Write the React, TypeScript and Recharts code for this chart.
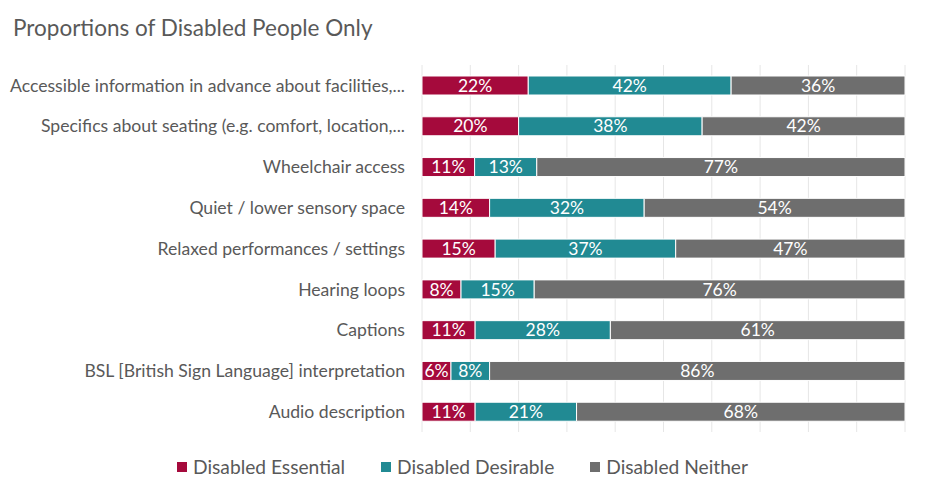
import { Bar, BarChart, CartesianGrid, LabelList, XAxis, YAxis } from "recharts";

const categories = [
  "Accessible information in advance about facilities,...",
  "Specifics about seating (e.g. comfort, location,...",
  "Wheelchair access",
  "Quiet / lower sensory space",
  "Relaxed performances / settings",
  "Hearing loops",
  "Captions",
  "BSL [British Sign Language] interpretation",
  "Audio description",
];
const essential = [22, 20, 11, 14, 15, 8, 11, 6, 11];
const desirable = [42, 38, 13, 32, 37, 15, 28, 8, 21];
const neither = [36, 42, 77, 54, 47, 76, 61, 86, 68];
const xTicks = [0, 0.1, 0.2, 0.3, 0.4, 0.5, 0.6, 0.7, 0.8, 0.9, 1];

const seriesInfo = [
  { key: "essential", name: "Disabled Essential", color: "#A50A3C" },
  { key: "desirable", name: "Disabled Desirable", color: "#218A93" },
  { key: "neither", name: "Disabled Neither", color: "#6E6E6E" },
];

const data = categories.map((name, i) => ({
  name,
  essential: essential[i],
  desirable: desirable[i],
  neither: neither[i],
}));

const FONT = "Lato, 'Open Sans', sans-serif";
const TEXT = "#595959";

export default function App() {
  return (
    <div style={{ position: "relative", width: 925, height: 497, background: "#fff" }}>
      <style>{`body{margin:0}`}</style>
      <div style={{ position: "absolute", left: 13, top: 14, fontFamily: FONT, fontSize: 22.5, color: TEXT }}>
        Proportions of Disabled People Only
      </div>
      <BarChart
        width={925}
        height={497}
        data={data}
        layout="vertical"
        stackOffset="expand"
        barSize={19}
        margin={{ top: 65, right: 20, bottom: 65, left: 0 }}
      >
        <CartesianGrid horizontal={false} stroke="#e6e6e6" />
        <XAxis type="number" domain={[0, 1]} ticks={xTicks} hide />
        <YAxis
          type="category"
          dataKey="name"
          width={422}
          axisLine={false}
          tickLine={false}
          tickSize={0}
          tickMargin={17}
          tick={{ fill: TEXT, fontSize: 17.6, fontFamily: FONT }}
        />
        {seriesInfo.map((s) => (
          <Bar
            key={s.key}
            dataKey={s.key}
            name={s.name}
            stackId="a"
            fill={s.color}
            stroke="#fff"
            strokeWidth={1}
            isAnimationActive={false}
          >
            <LabelList
              dataKey={s.key}
              position="center"
              formatter={(v: any) => `${v}%`}
              fill="#fff"
              fontSize={17.5}
              fontFamily={FONT}
            />
          </Bar>
        ))}
      </BarChart>
      <div
        style={{
          position: "absolute",
          left: 0,
          width: 925,
          top: 455,
          display: "flex",
          justifyContent: "center",
          gap: 36,
          fontFamily: FONT,
          fontSize: 19.2,
          color: TEXT,
        }}
      >
        {seriesInfo.map((s) => (
          <div key={s.key} style={{ display: "flex", alignItems: "center" }}>
            <span style={{ width: 10, height: 10, background: s.color, display: "inline-block", marginRight: 6 }} />
            {s.name}
          </div>
        ))}
      </div>
    </div>
  );
}
